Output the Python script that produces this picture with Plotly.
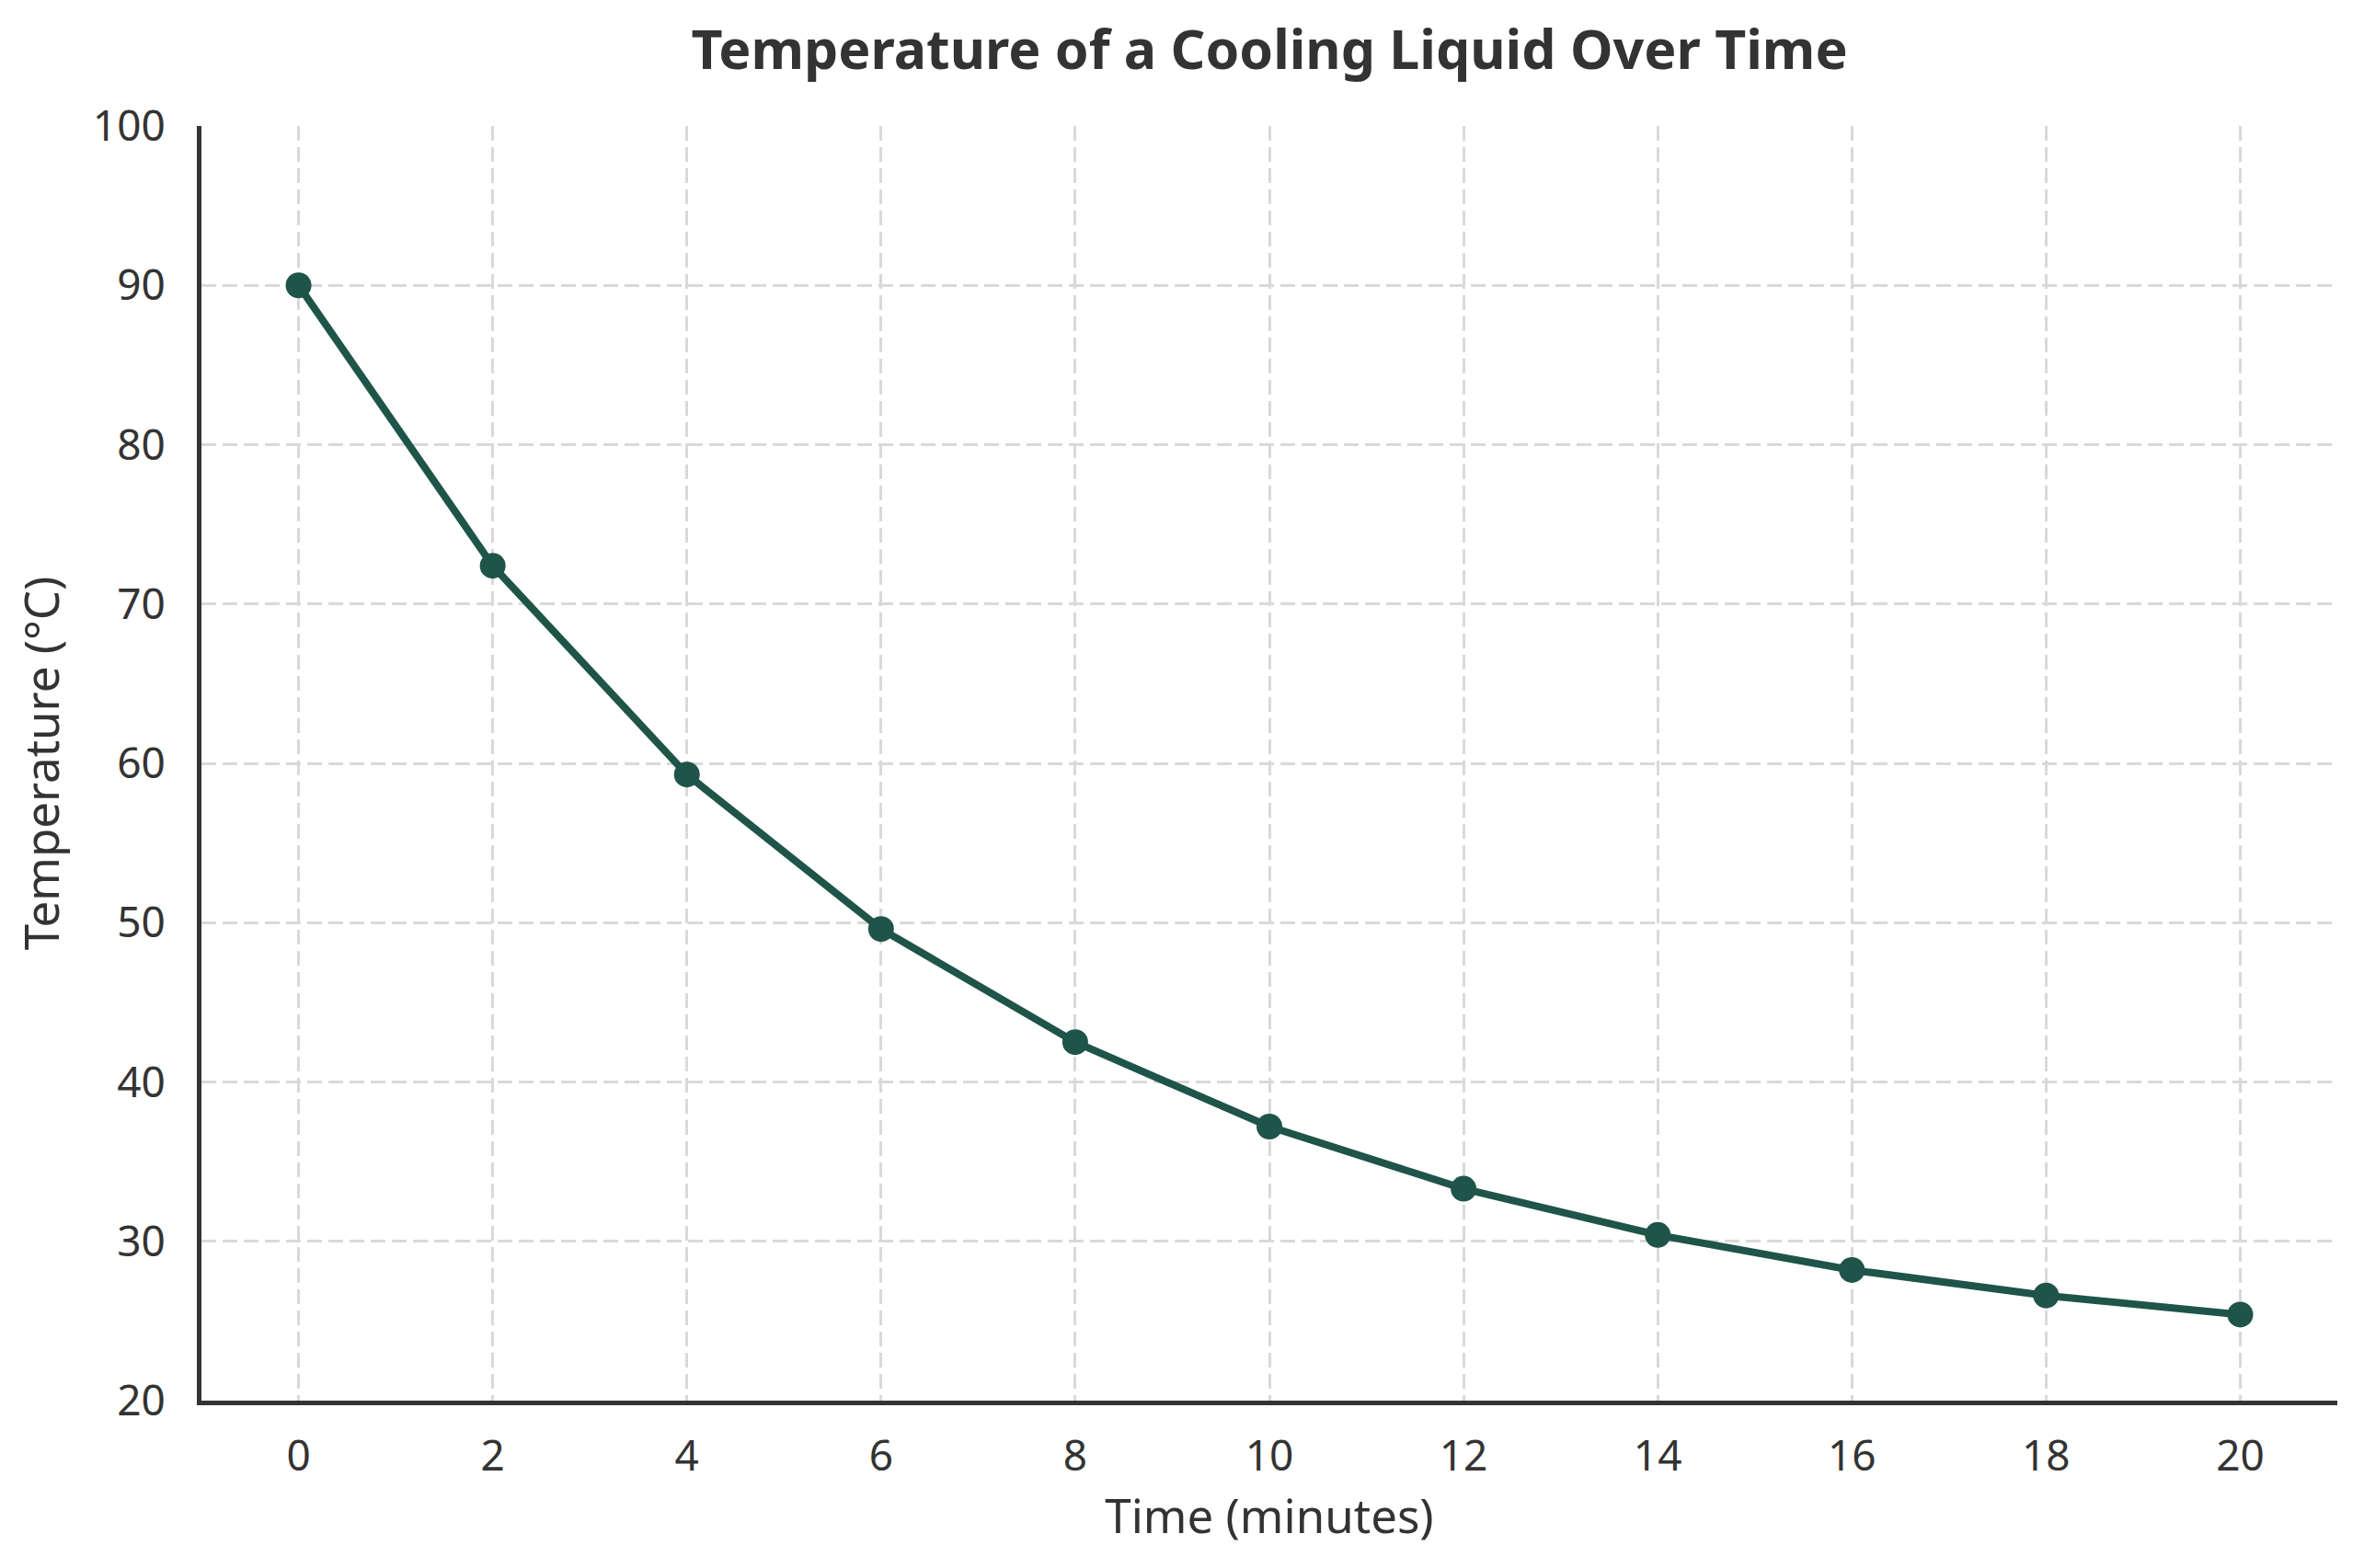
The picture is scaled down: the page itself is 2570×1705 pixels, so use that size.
import plotly.graph_objects as go

# Time in minutes and measured temperature (°C)
time_min = [0, 2, 4, 6, 8, 10, 12, 14, 16, 18, 20]
temperature = [90.0, 72.4, 59.3, 49.6, 42.5, 37.2, 33.3, 30.4, 28.2, 26.6, 25.4]

x_ticks = [0, 2, 4, 6, 8, 10, 12, 14, 16, 18, 20]
y_ticks = [20, 30, 40, 50, 60, 70, 80, 90, 100]

line_color = "#1f5449"
text_color = "#333333"
grid_color = "#d9d9d9"

# the page body has an 8px margin, so the figure is a bit smaller than the window
W, H = 2554, 1689

fig = go.Figure(data=go.Scatter(
    x=time_min, y=temperature, mode='lines+markers',
    line=dict(color=line_color, width=8),
    marker=dict(color=line_color, size=28),
))

# Set plot layout
fig.update_layout(
    width=W,
    height=H,
    title=dict(
        text="<b>Temperature of a Cooling Liquid Over Time</b>",
        x=0.5, xref='paper', xanchor='center',
        y=1 - 46 / H, yref='container', yanchor='middle',
        font=dict(family="Noto Sans", size=59, color=text_color),
    ),
    xaxis=dict(
        range=[-1, 21],
        tickvals=x_ticks,
        showline=True, linecolor=text_color, linewidth=5, mirror=False,
        showgrid=True, gridcolor=grid_color, gridwidth=3, griddash="16px,7px",
        zeroline=False,
        ticks="", ticklabelstandoff=16,
        tickfont=dict(family="Noto Sans", size=46, color=text_color),
        title=dict(text="Time (minutes)", standoff=12,
                   font=dict(family="Noto Sans", size=51, color=text_color)),
    ),
    yaxis=dict(
        range=[20, 100],
        tickvals=y_ticks,
        showline=True, linecolor=text_color, linewidth=5, mirror=False,
        showgrid=True, gridcolor=grid_color, gridwidth=3, griddash="16px,7px",
        zeroline=False,
        ticks="", ticklabelstandoff=25,
        tickfont=dict(family="Noto Sans", size=46, color=text_color),
        title=dict(text="Temperature (°C)", standoff=22,
                   font=dict(family="Noto Sans", size=51, color=text_color)),
    ),
    margin=dict(l=211, r=21, t=129, b=174, autoexpand=False),
    showlegend=False,
    plot_bgcolor="white",
    paper_bgcolor="white",
)

fig.write_html("out.html")
